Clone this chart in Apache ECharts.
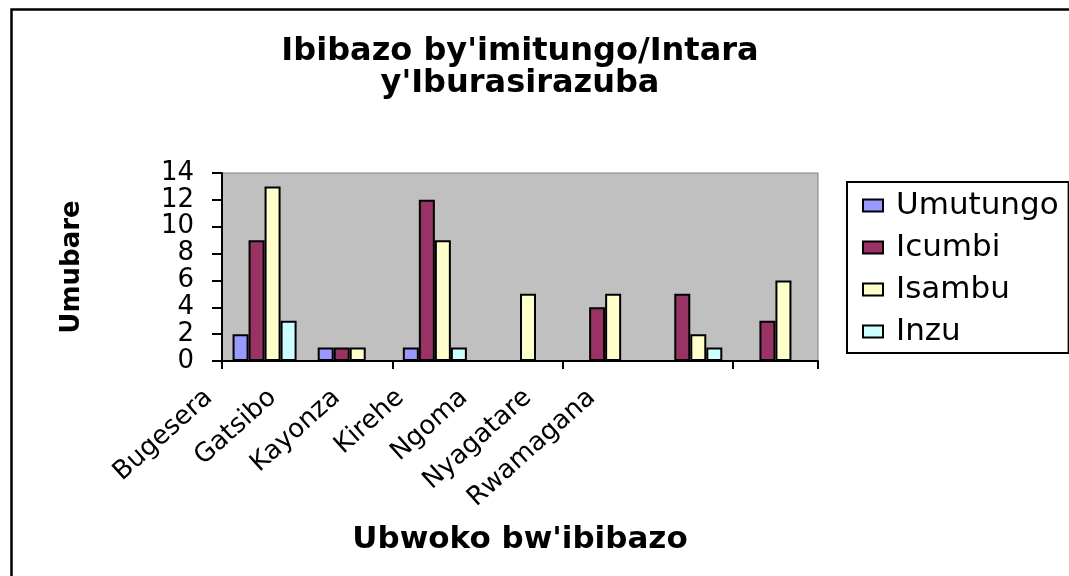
<!DOCTYPE html>
<html><head><meta charset="utf-8">
<script src="https://cdn.jsdelivr.net/npm/echarts@6/dist/echarts.min.js"></script>
<style>html,body{margin:0;padding:0;background:#fff}#c{width:1069px;height:576px}</style>
</head><body><div id="c"></div>
<script>
const categories = ['Bugesera','Gatsibo','Kayonza','Kirehe','Ngoma','Nyagatare','Rwamagana'];
const seriesNames = ['Umutungo','Icumbi','Isambu','Inzu'];
const umutungo = [2, 1, 1, 0, 0, 0, 0];
const icumbi   = [9, 1, 12, 0, 4, 5, 3];
const isambu   = [13, 1, 9, 5, 5, 2, 6];
const inzu     = [3, 0, 1, 0, 0, 1, 0];
const yMin = 0, yMax = 14, yStep = 2;
const titleText = "Ibibazo by'imitungo/Intara\ny'Iburasirazuba";
const yName = 'Umubare';
const xName = "Ubwoko bw'ibibazo";
const colors = ['#9999FF','#993366','#FFFFCC','#CCFFFF'];
const values = [umutungo, icumbi, isambu, inzu];

const FONT = 'DejaVu Sans';
const chart = echarts.init(document.getElementById('c'), null, {renderer:'canvas'});
chart.setOption({
  animation: false,
  backgroundColor: '#ffffff',
  graphic: [{
    type: 'rect', left: 9, top: 7, z: 100, silent: true,
    shape: {x: 0, y: 0, width: 1100, height: 620},
    style: {fill: 'none', stroke: '#000', lineWidth: 2.5}
  }],
  title: {
    text: titleText, left: 520, top: 36, textAlign: 'center', padding: 0,
    textStyle: {fontFamily: FONT, fontWeight: 'bold', fontSize: 32, lineHeight: 32, color: '#000'}
  },
  legend: {
    orient: 'vertical', left: 847, top: 182,
    itemWidth: 20, itemHeight: 12, itemGap: 11,
    padding: [8, 10, 6, 15],
    borderColor: '#000', borderWidth: 2, backgroundColor: '#fff',
    icon: 'rect',
    data: seriesNames,
    textStyle: {fontFamily: FONT, fontSize: 31, color: '#000', padding: [0, 0, 0, 8]}
  },
  grid: [
    {left: 222, top: 173, width: 596, height: 188, show: true, backgroundColor: '#C0C0C0', borderColor: '#808080', borderWidth: 1},
    {left: 177, top: 173, width: 446.6, height: 188, show: false}
  ],
  xAxis: [
    {
      type: 'category', gridIndex: 0, data: categories,
      axisLine: {lineStyle: {color: '#000', width: 2}},
      axisTick: {show: true, length: 8, lineStyle: {color: '#000', width: 2}},
      axisLabel: {show: false},
      name: xName, nameLocation: 'middle', nameGap: 163,
      nameTextStyle: {fontFamily: FONT, fontWeight: 'bold', fontSize: 31, color: '#000'}
    },
    {
      type: 'category', gridIndex: 1, data: categories,
      axisLine: {show: false}, axisTick: {show: false},
      axisLabel: {show: true, interval: 0, rotate: 42, margin: 33, fontFamily: FONT, fontSize: 26, color: '#000'}
    }
  ],
  yAxis: [
    {
      type: 'value', gridIndex: 0, min: yMin, max: yMax, interval: yStep,
      axisLine: {show: true, lineStyle: {color: '#000', width: 2}},
      axisTick: {show: true, length: 10, lineStyle: {color: '#000', width: 2}},
      splitLine: {show: false},
      axisLabel: {margin: 28, fontFamily: FONT, fontSize: 26, color: '#000'},
      name: yName, nameLocation: 'middle', nameGap: 137, nameRotate: 90,
      nameTextStyle: {fontFamily: FONT, fontWeight: 'bold', fontSize: 26, color: '#000'}
    },
    {type: 'value', gridIndex: 1, show: false, min: 0, max: 1}
  ],
  series: seriesNames.map((n, i) => ({
    type: 'bar', name: n, xAxisIndex: 0, yAxisIndex: 0,
    data: values[i],
    barGap: '0%', barCategoryGap: '24.8%',
    itemStyle: {color: colors[i], borderColor: '#000', borderWidth: 2}
  }))
});
</script></body></html>
